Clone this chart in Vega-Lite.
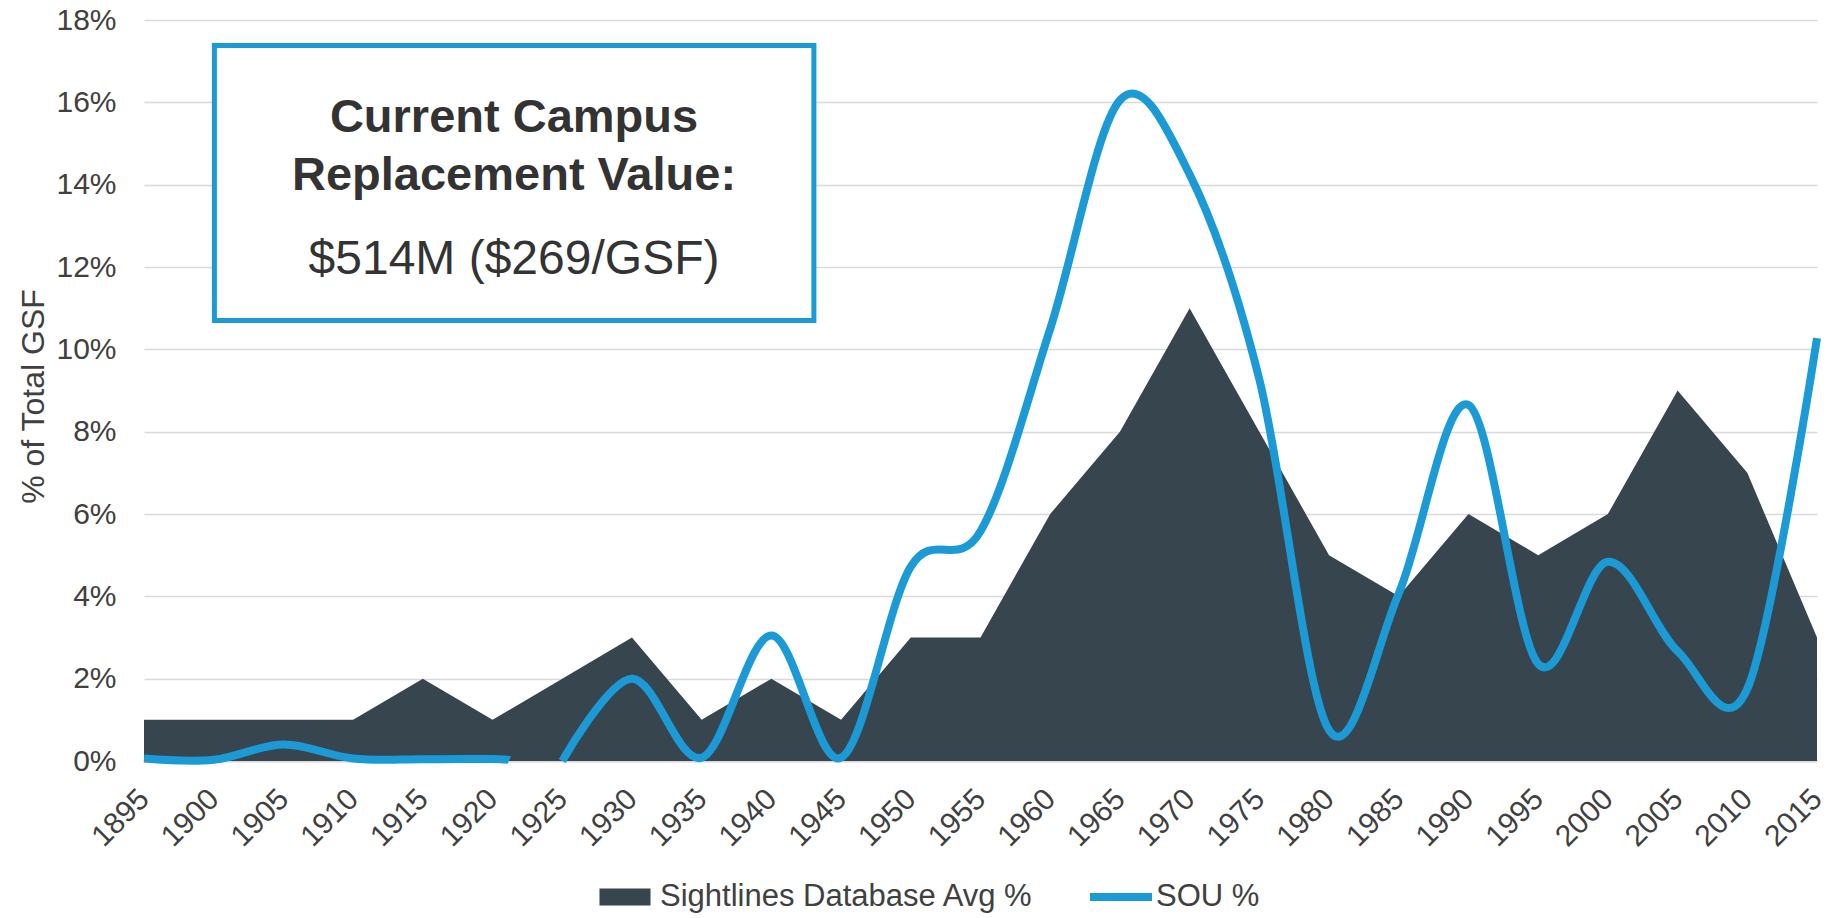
{
  "$schema": "https://vega.github.io/schema/vega-lite/v6.json",
  "width": 1673,
  "height": 741,
  "autosize": "none",
  "padding": {"left": 144, "top": 20, "right": 18, "bottom": 157},
  "background": "white",
  "datasets": {
    "sightlines": [
      {"year": 1895, "pct": 1, "series": "Sightlines Database Avg %"},
      {"year": 1900, "pct": 1, "series": "Sightlines Database Avg %"},
      {"year": 1905, "pct": 1, "series": "Sightlines Database Avg %"},
      {"year": 1910, "pct": 1, "series": "Sightlines Database Avg %"},
      {"year": 1915, "pct": 2, "series": "Sightlines Database Avg %"},
      {"year": 1920, "pct": 1, "series": "Sightlines Database Avg %"},
      {"year": 1925, "pct": 2, "series": "Sightlines Database Avg %"},
      {"year": 1930, "pct": 3, "series": "Sightlines Database Avg %"},
      {"year": 1935, "pct": 1, "series": "Sightlines Database Avg %"},
      {"year": 1940, "pct": 2, "series": "Sightlines Database Avg %"},
      {"year": 1945, "pct": 1, "series": "Sightlines Database Avg %"},
      {"year": 1950, "pct": 3, "series": "Sightlines Database Avg %"},
      {"year": 1955, "pct": 3, "series": "Sightlines Database Avg %"},
      {"year": 1960, "pct": 6, "series": "Sightlines Database Avg %"},
      {"year": 1965, "pct": 8, "series": "Sightlines Database Avg %"},
      {"year": 1970, "pct": 11, "series": "Sightlines Database Avg %"},
      {"year": 1975, "pct": 8, "series": "Sightlines Database Avg %"},
      {"year": 1980, "pct": 5, "series": "Sightlines Database Avg %"},
      {"year": 1985, "pct": 4, "series": "Sightlines Database Avg %"},
      {"year": 1990, "pct": 6, "series": "Sightlines Database Avg %"},
      {"year": 1995, "pct": 5, "series": "Sightlines Database Avg %"},
      {"year": 2000, "pct": 6, "series": "Sightlines Database Avg %"},
      {"year": 2005, "pct": 9, "series": "Sightlines Database Avg %"},
      {"year": 2010, "pct": 7, "series": "Sightlines Database Avg %"},
      {"year": 2015, "pct": 3, "series": "Sightlines Database Avg %"}
    ],
    "sou": [
      {"year": 1895, "pct": 0.06, "seg": "a", "series": "SOU %"},
      {"year": 1900, "pct": 0.03, "seg": "a", "series": "SOU %"},
      {"year": 1905, "pct": 0.4, "seg": "a", "series": "SOU %"},
      {"year": 1910, "pct": 0.06, "seg": "a", "series": "SOU %"},
      {"year": 1915, "pct": 0.04, "seg": "a", "series": "SOU %"},
      {"year": 1920, "pct": 0.05, "seg": "a", "series": "SOU %"},
      {"year": 1921.2, "pct": 0.02, "seg": "a", "series": "SOU %"},
      {"year": 1925, "pct": 0.0, "seg": "b", "series": "SOU %"},
      {"year": 1930, "pct": 2.0, "seg": "b", "series": "SOU %"},
      {"year": 1935, "pct": 0.08, "seg": "b", "series": "SOU %"},
      {"year": 1940, "pct": 3.05, "seg": "b", "series": "SOU %"},
      {"year": 1945, "pct": 0.08, "seg": "b", "series": "SOU %"},
      {"year": 1950, "pct": 4.72, "seg": "b", "series": "SOU %"},
      {"year": 1955, "pct": 5.58, "seg": "b", "series": "SOU %"},
      {"year": 1960, "pct": 10.5, "seg": "b", "series": "SOU %"},
      {"year": 1965, "pct": 16.05, "seg": "b", "series": "SOU %"},
      {"year": 1970, "pct": 14.25, "seg": "b", "series": "SOU %"},
      {"year": 1975, "pct": 9.27, "seg": "b", "series": "SOU %"},
      {"year": 1980, "pct": 0.75, "seg": "b", "series": "SOU %"},
      {"year": 1985, "pct": 4.07, "seg": "b", "series": "SOU %"},
      {"year": 1990, "pct": 8.65, "seg": "b", "series": "SOU %"},
      {"year": 1995, "pct": 2.36, "seg": "b", "series": "SOU %"},
      {"year": 2000, "pct": 4.84, "seg": "b", "series": "SOU %"},
      {"year": 2005, "pct": 2.67, "seg": "b", "series": "SOU %"},
      {"year": 2010, "pct": 1.75, "seg": "b", "series": "SOU %"},
      {"year": 2015, "pct": 10.27, "seg": "b", "series": "SOU %"}
    ],
    "box": [
      {"x1": 1900.05, "x2": 1943.05, "y1": 17.38, "y2": 10.7}
    ],
    "boldlabels": [
      {"year": 1921.54, "pct": 15.62, "text": "Current Campus"},
      {"year": 1921.54, "pct": 14.22, "text": "Replacement Value:"}
    ],
    "plainlabels": [
      {"year": 1921.54, "pct": 12.17, "text": "$514M ($269/GSF)"}
    ]
  },
  "layer": [
    {
      "data": {"name": "sightlines"},
      "mark": {"type": "area", "interpolate": "linear"},
      "encoding": {
        "x": {
          "field": "year", "type": "quantitative",
          "scale": {"domain": [1895, 2015], "nice": false, "zero": false},
          "axis": {
            "values": [1895,1900,1905,1910,1915,1920,1925,1930,1935,1940,1945,1950,1955,1960,1965,1970,1975,1980,1985,1990,1995,2000,2005,2010,2015],
            "format": "d", "title": null, "grid": false, "ticks": false,
            "domain": true, "domainColor": "#d9d9d9", "domainWidth": 2,
            "labelAngle": -45, "labelAlign": "right", "labelBaseline": "middle",
            "labelPadding": 33, "labelFontSize": 30, "labelFont": "Liberation Sans",
            "labelColor": "#404040", "labelOverlap": false, "labelFlush": false
          }
        },
        "y": {
          "field": "pct", "type": "quantitative",
          "scale": {"domain": [0, 18], "nice": false},
          "axis": {
            "values": [0,2,4,6,8,10,12,14,16,18],
            "labelExpr": "datum.value + '%'",
            "title": "% of Total GSF",
            "titleFont": "Liberation Sans", "titleFontSize": 32, "titleFontWeight": "normal",
            "titleColor": "#404040", "titleAngle": -90, "titleX": -111, "titleY": 376,
            "titleAlign": "center", "titleBaseline": "middle",
            "grid": true, "gridColor": "#d9d9d9", "gridWidth": 1.5,
            "domain": false, "ticks": false, "labelPadding": 28,
            "labelFontSize": 30, "labelFont": "Liberation Sans", "labelColor": "#404040"
          }
        },
        "color": {
          "field": "series", "type": "nominal",
          "scale": {"domain": ["Sightlines Database Avg %", "SOU %"], "range": ["#37454f", "#1c9ad6"]},
          "legend": {
            "orient": "none", "legendX": 450, "legendY": 846, "direction": "horizontal",
            "title": null, "labelFont": "Liberation Sans", "labelFontSize": 31,
            "labelColor": "#404040", "symbolType": "M-0.823,-0.274H0.823V0.274H-0.823Z", "symbolSize": 3844,
            "symbolStrokeWidth": 0, "labelOffset": 4, "columnPadding": 56, "labelLimit": 600,
            "encoding": {
              "symbols": {
                "shape": {
                  "condition": {"test": "datum.value === 'SOU %'", "value": "M-1,-0.13H1V0.13H-1Z"},
                  "value": "M-0.823,-0.274H0.823V0.274H-0.823Z"
                }
              }
            }
          }
        }
      }
    },
    {
      "data": {"name": "sou"},
      "mark": {"type": "line", "interpolate": "cardinal", "strokeWidth": 8, "strokeCap": "butt"},
      "encoding": {
        "x": {"field": "year", "type": "quantitative"},
        "y": {"field": "pct", "type": "quantitative"},
        "detail": {"field": "seg", "type": "nominal"},
        "color": {"field": "series", "type": "nominal"}
      }
    },
    {
      "data": {"name": "box"},
      "mark": {"type": "rect", "fill": "white", "stroke": "#1c9ad6", "strokeWidth": 5},
      "encoding": {
        "x": {"field": "x1", "type": "quantitative"},
        "x2": {"field": "x2"},
        "y": {"field": "y1", "type": "quantitative"},
        "y2": {"field": "y2"}
      }
    },
    {
      "data": {"name": "boldlabels"},
      "mark": {"type": "text", "font": "Liberation Sans", "fontWeight": "bold", "fontSize": 47, "color": "#333333", "align": "center", "baseline": "middle"},
      "encoding": {
        "x": {"field": "year", "type": "quantitative"},
        "y": {"field": "pct", "type": "quantitative"},
        "text": {"field": "text"}
      }
    },
    {
      "data": {"name": "plainlabels"},
      "mark": {"type": "text", "font": "Liberation Sans", "fontWeight": "normal", "fontSize": 48, "color": "#333333", "align": "center", "baseline": "middle"},
      "encoding": {
        "x": {"field": "year", "type": "quantitative"},
        "y": {"field": "pct", "type": "quantitative"},
        "text": {"field": "text"}
      }
    }
  ],
  "config": {
    "view": {"stroke": null}
  }
}
